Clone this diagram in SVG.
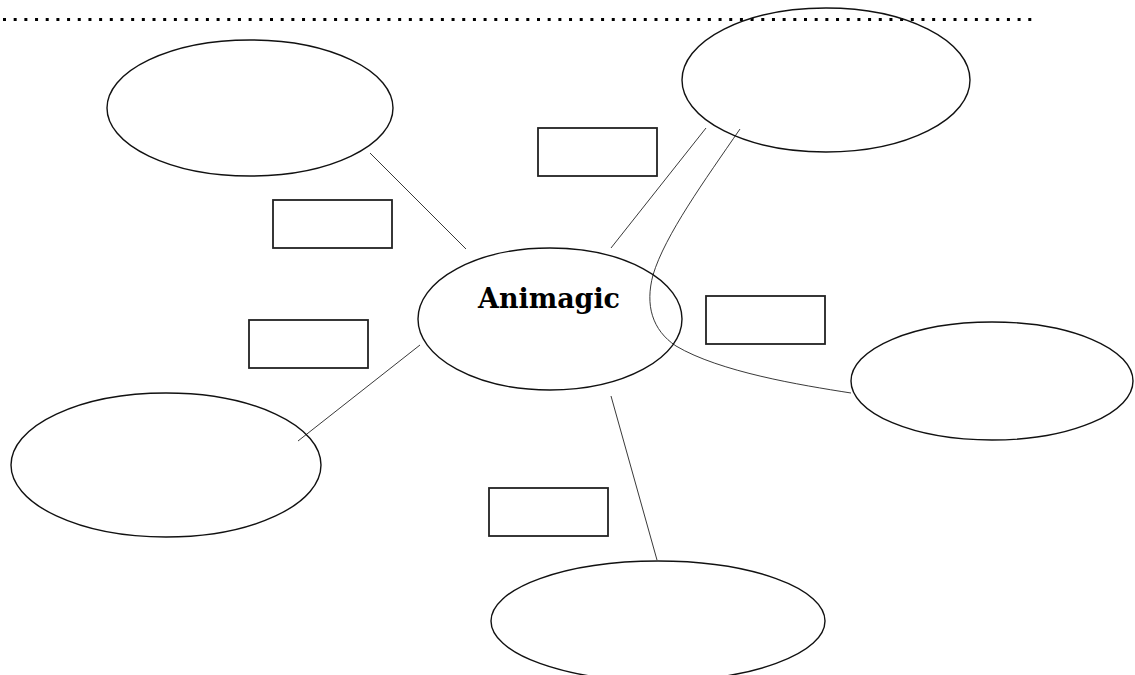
<svg xmlns="http://www.w3.org/2000/svg" width="1135" height="675" viewBox="0 0 1135 675">
<style>
.node ellipse{fill:none;stroke:#111;stroke-width:1.4}
.box rect{fill:#fff;stroke:#222;stroke-width:1.8}
.conn{fill:none;stroke:#222;stroke-width:0.9}
.lbl{font-family:"DejaVu Serif","Liberation Serif",serif;font-weight:bold;font-size:27px;fill:#000}
</style>
<rect x="0" y="0" width="1135" height="675" fill="#fff"/>
<line x1="3" y1="19.5" x2="1032" y2="19.5" stroke="#000" stroke-width="3" stroke-dasharray="3 7.68"/>
<g id="connectors">
<line class="conn" x1="370" y1="153" x2="466" y2="249"/>
<line class="conn" x1="611" y1="248" x2="706" y2="128"/>
<path class="conn" d="M740,129 C705,180 665,235 653,275 C645,305 652,330 676,346 C720,372 800,385 851,393"/>
<line class="conn" x1="298" y1="441" x2="420" y2="345"/>
<line class="conn" x1="611" y1="396" x2="657" y2="560"/>
</g>
<g id="node-center" class="node"><ellipse cx="550" cy="319" rx="132" ry="71"/><text class="lbl" x="478" y="308" textLength="142" lengthAdjust="spacingAndGlyphs">Animagic</text></g>
<g id="node-topleft" class="node"><ellipse cx="250" cy="108" rx="143" ry="68"/></g>
<g id="node-topright" class="node"><ellipse cx="826" cy="80" rx="144" ry="72"/></g>
<g id="node-right" class="node"><ellipse cx="992" cy="381" rx="141" ry="59"/></g>
<g id="node-left" class="node"><ellipse cx="166" cy="465" rx="155" ry="72"/></g>
<g id="node-bottom" class="node"><ellipse cx="658" cy="621" rx="167" ry="60"/></g>
<g id="box-1" class="box"><rect x="538" y="128" width="119" height="48"/></g>
<g id="box-2" class="box"><rect x="273" y="200" width="119" height="48"/></g>
<g id="box-3" class="box"><rect x="706" y="296" width="119" height="48"/></g>
<g id="box-4" class="box"><rect x="249" y="320" width="119" height="48"/></g>
<g id="box-5" class="box"><rect x="489" y="488" width="119" height="48"/></g>
</svg>
